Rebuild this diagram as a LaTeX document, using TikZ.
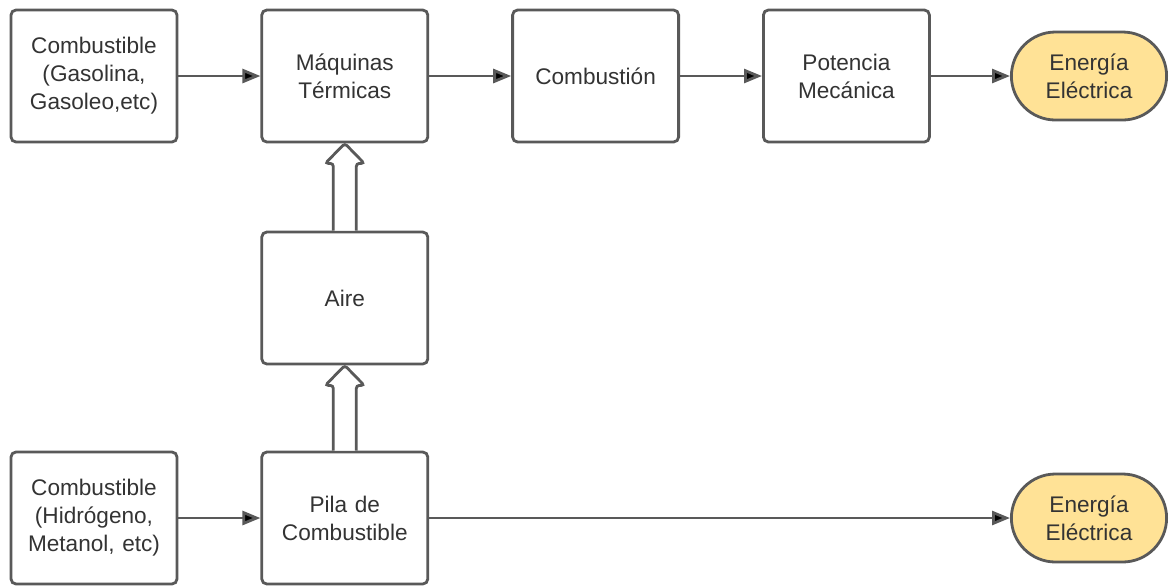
\documentclass[tikz,border=0pt]{standalone}
\usepackage{fontspec}
\setmainfont{Liberation Sans}
\usetikzlibrary{arrows.meta,positioning,calc}
\definecolor{linegray}{RGB}{89,89,89}
\definecolor{textgray}{RGB}{51,51,51}
\definecolor{energyyellow}{RGB}{255,226,150}

\begin{document}
\begin{tikzpicture}
[x=1pt, y=1pt, font=\fontsize{11.3}{14}\selectfont, text=textgray,
% STYLES
% The stage style is used to draw each process box
stage/.style={rectangle, draw=linegray, line width=1.4pt, rounded corners=2.5pt, minimum width=83pt, minimum height=66pt, text width=80pt, align=center, inner sep=0pt},
% The energy style is used to draw the final output
energy/.style={rectangle, draw=linegray, line width=1.4pt, fill=energyyellow, rounded corners=22pt, minimum width=77.6pt, minimum height=44pt, align=center, inner sep=0pt},
% The flow style is used to draw the thin arrows
flow/.style={-{Triangle[length=9pt,width=7pt]}, draw=linegray, line width=1.4pt},
% The hollow style is used to draw the wide arrows
hollow/.style={draw=linegray, line width=1.4pt, fill=white, rounded corners=1.5pt}]
\useasboundingbox (0,0) rectangle (587,-293);
% Draw stages
\node [stage] (comb_gas) at (47,-38) {Combustible\\(Gasolina,\\Gasoleo,etc)};
\node [stage, right=41pt of comb_gas] (maquinas) {M\'aquinas\\T\'ermicas};
\node [stage, right=41pt of maquinas] (combustion) {Combusti\'on};
\node [stage, right=41pt of combustion] (potencia) {Potencia\\Mec\'anica};
\node [energy, right=39.6pt of potencia] (energia_top) {Energ\'ia\\El\'ectrica};
\node [stage, below=43.6pt of maquinas] (aire) {Aire};
\node [stage, below=42.6pt of aire] (pila) {Pila de\\Combustible};
\node [stage, left=41pt of pila] (comb_hid) {Combustible\\(Hidr\'ogeno,\\Metanol, etc)};
\node [energy] (energia_bottom) at (energia_top |- pila) {Energ\'ia\\El\'ectrica};
% Draw the links between stages
\path[flow]
(comb_gas) edge (maquinas)
(maquinas) edge (combustion)
(combustion) edge (potencia)
(potencia) edge (energia_top)
(comb_hid) edge (pila)
(pila) edge (energia_bottom);
% Wide arrows
\foreach \from/\to in {aire/maquinas, pila/aire}
  \draw[hollow] ($(\from.north)+(-5.75,0)$) -- ($(\to.south)+(-5.75,-10)$)
    -- ($(\to.south)+(-9.75,-10)$) -- (\to.south) -- ($(\to.south)+(9.75,-10)$)
    -- ($(\to.south)+(5.75,-10)$) -- ($(\from.north)+(5.75,0)$);
\end{tikzpicture}
\end{document}
